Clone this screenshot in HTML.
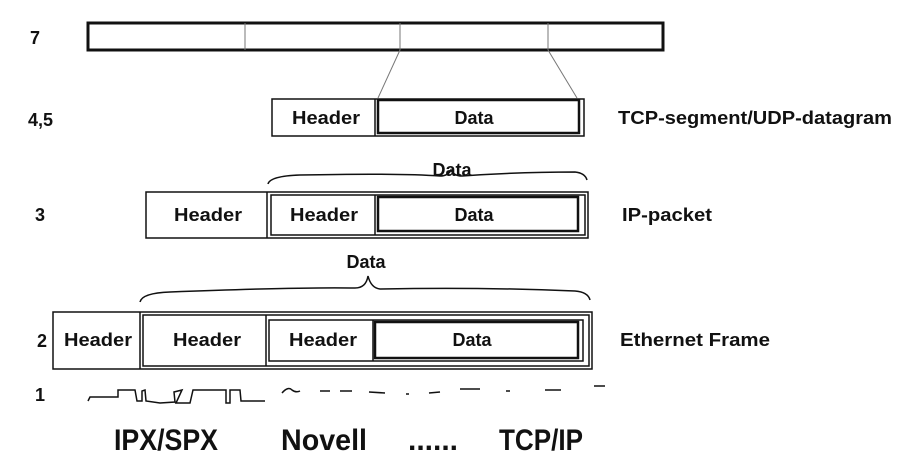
<!DOCTYPE html>
<html><head><meta charset="utf-8"><style>
html,body{margin:0;padding:0;background:#fff;}
svg{display:block;}
text{font-family:"Liberation Sans",sans-serif;font-weight:bold;fill:#111;}
</style></head><body>
<svg width="924" height="469" viewBox="0 0 924 469" xmlns="http://www.w3.org/2000/svg">
<g fill="none" stroke="#111">
<!-- row 7 -->
<rect x="88" y="23" width="575" height="27" stroke-width="3"/>
<line x1="245" y1="23" x2="245" y2="50" stroke-width="1" stroke="#777"/>
<line x1="400" y1="23" x2="400" y2="50" stroke-width="1" stroke="#777"/>
<line x1="548" y1="23" x2="548" y2="50" stroke-width="1" stroke="#777"/>
<line x1="400" y1="50" x2="378" y2="98" stroke-width="1" stroke="#777"/>
<line x1="548" y1="50" x2="577" y2="98" stroke-width="1" stroke="#777"/>
<!-- row 4,5 -->
<rect x="272" y="99" width="312" height="37" stroke-width="1.5"/>
<line x1="375" y1="99" x2="375" y2="136" stroke-width="1.5"/>
<rect x="378" y="100" width="201" height="33" stroke-width="2.5"/>
<!-- row 3 brace -->
<path d="M268 184 Q270 176 300 175 Q400 173 440 176 Q448 176 451 170 Q454 176 462 176 Q520 172 575 172 Q585 173 587 180" stroke-width="1.5"/>
<rect x="146" y="192" width="442" height="46" stroke-width="1.5"/>
<line x1="267" y1="192" x2="267" y2="238" stroke-width="1.5"/>
<rect x="271" y="195" width="314" height="40" stroke-width="1.5"/>
<line x1="375" y1="195" x2="375" y2="235" stroke-width="1.5"/>
<rect x="378" y="197" width="200" height="34" stroke-width="2.5"/>
<!-- row 2 brace -->
<path d="M140 302 Q142 293 170 292 Q300 287 355 288 Q366 288 368 276 Q371 288 380 289 Q480 287 575 291 Q588 292 590 300" stroke-width="1.5"/>
<rect x="53" y="312" width="539" height="57" stroke-width="1.5"/>
<line x1="140" y1="312" x2="140" y2="369" stroke-width="1.5"/>
<rect x="143" y="315" width="446" height="51" stroke-width="1.5"/>
<line x1="266" y1="315" x2="266" y2="366" stroke-width="1.5"/>
<rect x="269" y="320" width="314" height="41" stroke-width="1.5"/>
<line x1="373" y1="320" x2="373" y2="361" stroke-width="1.5"/>
<rect x="375" y="322" width="203" height="36" stroke-width="2.5"/>
<!-- row 1 signal -->
<path d="M88 401 L90 397 L118 397 L118 390 L135 390 L137 401 L142 401 L142 391 L145 390 L146 401 L160 403 L175 402 L174 392 L182 390 L176 403 L190 403 L193 390 L210 390 L226 390 L226 403 L230 403 L230 390 L240 390 L241 401 L265 401" stroke-width="1.5"/>
<path d="M282 393 Q288 386 292 390 Q296 393 300 391" stroke-width="1.5"/>
<path d="M320 391 L330 391 M340 391 L352 391 M369 392 L385 393 M406 394 L409 394 M429 393 L440 392 M460 389 L480 389 M506 391 L510 391 M545 390 L561 390 M594 386 L605 386" stroke-width="1.5"/>
</g>
<text x="30" y="44" font-size="18">7</text>
<text x="28" y="126" font-size="18">4,5</text>
<text x="35" y="221" font-size="18">3</text>
<text x="37" y="347" font-size="18">2</text>
<text x="35" y="401" font-size="18">1</text>
<text x="326" y="124" font-size="18" text-anchor="middle" textLength="68" lengthAdjust="spacingAndGlyphs">Header</text>
<text x="474" y="124" font-size="18" text-anchor="middle">Data</text>
<text x="618" y="124" font-size="18" textLength="274" lengthAdjust="spacingAndGlyphs">TCP-segment/UDP-datagram</text>
<text x="452" y="176" font-size="18" text-anchor="middle">Data</text>
<text x="208" y="221" font-size="18" text-anchor="middle" textLength="68" lengthAdjust="spacingAndGlyphs">Header</text>
<text x="324" y="221" font-size="18" text-anchor="middle" textLength="68" lengthAdjust="spacingAndGlyphs">Header</text>
<text x="474" y="221" font-size="18" text-anchor="middle">Data</text>
<text x="622" y="221" font-size="18" textLength="90" lengthAdjust="spacingAndGlyphs">IP-packet</text>
<text x="366" y="268" font-size="18" text-anchor="middle">Data</text>
<text x="98" y="346" font-size="18" text-anchor="middle" textLength="68" lengthAdjust="spacingAndGlyphs">Header</text>
<text x="207" y="346" font-size="18" text-anchor="middle" textLength="68" lengthAdjust="spacingAndGlyphs">Header</text>
<text x="323" y="346" font-size="18" text-anchor="middle" textLength="68" lengthAdjust="spacingAndGlyphs">Header</text>
<text x="472" y="346" font-size="18" text-anchor="middle">Data</text>
<text x="620" y="346" font-size="18" textLength="150" lengthAdjust="spacingAndGlyphs">Ethernet Frame</text>
<text x="114" y="450" font-size="30" textLength="104" lengthAdjust="spacingAndGlyphs">IPX/SPX</text>
<text x="281" y="450" font-size="30" textLength="86" lengthAdjust="spacingAndGlyphs">Novell</text>
<text x="408" y="450" font-size="30" textLength="50" lengthAdjust="spacingAndGlyphs">......</text>
<text x="499" y="450" font-size="30" textLength="84" lengthAdjust="spacingAndGlyphs">TCP/IP</text>
</svg>
</body></html>
